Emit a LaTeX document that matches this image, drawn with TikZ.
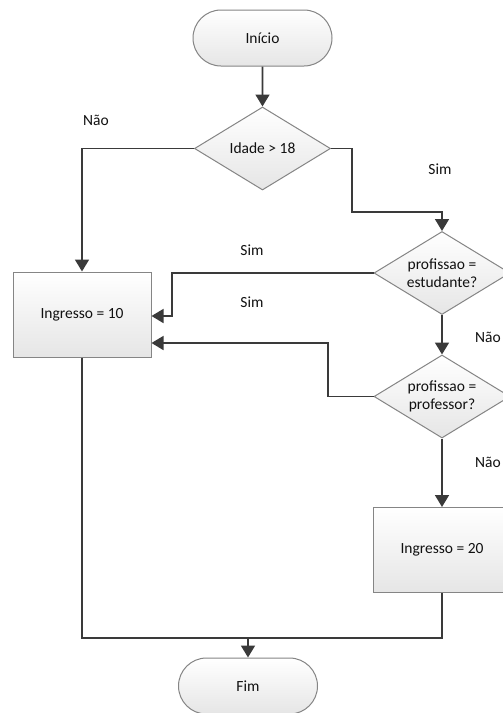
\documentclass[tikz,border=0pt]{standalone}
\usepackage{fontspec}
\setmainfont{Carlito}
\usetikzlibrary{shapes.geometric,shapes.misc,arrows.meta,calc}
\definecolor{linecol}{HTML}{3A3A3A}
\definecolor{edgecol}{HTML}{858585}
\definecolor{txtcol}{HTML}{111111}
\tikzset{
  shapebase/.style={draw=edgecol, line width=1pt, top color=white, bottom color=black!10,
    text=txtcol, font=\fontsize{15.5}{18}\selectfont, align=center, inner sep=0pt},
  term/.style={shapebase, rounded rectangle, minimum width=139pt, minimum height=56pt},
  proc/.style={shapebase, rectangle, minimum width=138pt, minimum height=85pt},
  decision/.style={shapebase, diamond, aspect=1.64, minimum width=136pt, minimum height=83pt},
  conn/.style={draw=linecol, line width=1.6pt},
  arr/.style={conn, -{Triangle[length=12pt,width=14pt]}},
  lbl/.style={text=txtcol, font=\fontsize{15.5}{18}\selectfont, inner sep=0pt}
}
\begin{document}
\begin{tikzpicture}[x=1pt,y=-1pt]
\path[use as bounding box] (0,0) rectangle (503,713);
\clip (0,0) rectangle (503,713);
\fill[white] (0,0) rectangle (503,713);

\node[term] (start) at (262.5,38) {Início};
\node[decision] (d1) at (262.5,148.5) {Idade > 18};
\node[decision] (d2) at (442,273) {profissao =\\estudante?};
\node[decision] (d3) at (442,396.5) {profissao =\\professor?};
\node[proc] (b10) at (82,314.5) {Ingresso = 10};
\node[proc] (b20) at (442,550) {Ingresso = 20};
\node[term] (fim) at (248,686) {Fim};

\coordinate (k1) at (352,212);
\coordinate (k2) at (172,273);
\coordinate (k3) at (328,396.5);
\coordinate (j) at (248,638);

\draw[arr] (start) -- (d1);
\draw[arr] (d1.west) -| (b10.north);
\draw[arr] (d1.east) -| (k1) -| (d2.north);
\draw[arr] (d2.west) -- (k2) |- ($(b10.east)+(0,1.5)$);
\draw[arr] (d2.south) -- (d3.north);
\draw[arr] (d3.west) -- (k3) |- ($(b10.east)+(0,28.5)$);
\draw[arr] (d3.south) -- (b20.north);
\draw[conn] (b10.south) |- (j);
\draw[conn] (b20.south) |- (j);
\draw[arr] (j) -- (fim.north);

\node[lbl] (l1) at (96,120) {Não};
\node[lbl] (l2) at (440,169) {Sim};
\node[lbl] (l3) at (252,250) {Sim};
\node[lbl] (l4) at (252,302) {Sim};
\node[lbl, anchor=west] (l5) at (475,337) {Não};
\node[lbl, anchor=west] (l6) at (475,462) {Não};
\end{tikzpicture}
\end{document}
